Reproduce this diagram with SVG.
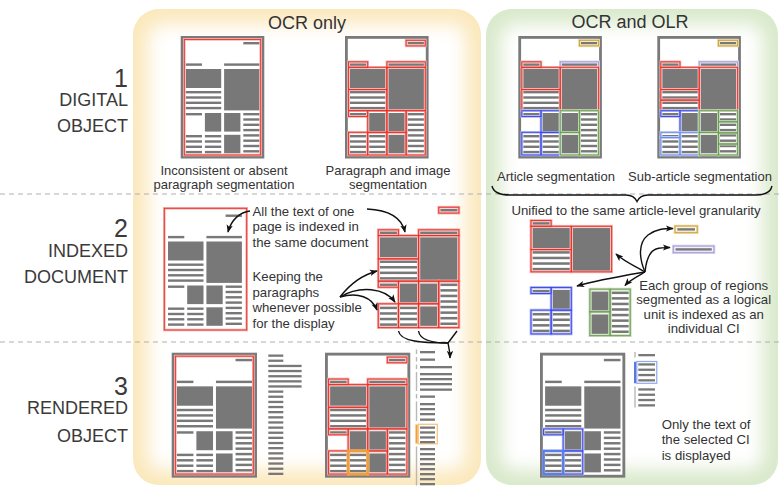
<svg xmlns="http://www.w3.org/2000/svg" width="779" height="486" viewBox="0 0 779 486">
<style>
text{font-family:"Liberation Sans",Arial,sans-serif;fill:#333}
.lab{font-size:18px;text-anchor:end;fill:#3a3a3a}
.num{font-size:25px;text-anchor:end;fill:#3a3a3a}
.hd{font-size:18px;text-anchor:middle}
.cap{font-size:13px;text-anchor:middle}
.ann{font-size:13.2px}
.mid{text-anchor:middle}
.fr{fill:#fff;stroke:#7a7a7a;stroke-width:2.8}
.bar{fill:#787878}
.hR{stroke:#f6b0ac;stroke-width:2.6}
.lR{stroke:#e4312b;stroke-width:0.9}
.hY{stroke:#eedba8;stroke-width:2.6}
.lY{stroke:#c8a03a;stroke-width:0.9}
.hV{stroke:#d8d4f2;stroke-width:2.6}
.lV{stroke:#a49ad8;stroke-width:0.9}
.hB{stroke:#b4baf4;stroke-width:2.6}
.lB{stroke:#3745e6;stroke-width:0.9}
.hL{stroke:#c6d2f4;stroke-width:2.6}
.lL{stroke:#6a8ce6;stroke-width:0.9}
.hG{stroke:#c4dbb6;stroke-width:2.6}
.lG{stroke:#6a9a52;stroke-width:0.9}
.con{fill:none;stroke:#111;stroke-width:1.4}
.dash{stroke:#b0b0b0;stroke-width:1.2;stroke-dasharray:5 4}
.vb{fill:#b8b8b8}
</style>
<defs>
<filter id="blur" x="-20%" y="-20%" width="140%" height="140%"><feGaussianBlur stdDeviation="9"/></filter>
<clipPath id="clipL"><rect x="133" y="9" width="348" height="476" rx="26"/></clipPath>
<clipPath id="clipR"><rect x="486" y="9" width="292" height="476" rx="26"/></clipPath>
<marker id="ah" viewBox="0 0 10 10" refX="9" refY="5" markerWidth="8" markerHeight="8" markerUnits="userSpaceOnUse" orient="auto"><path d="M0,1 L10,5 L0,9 L2.5,5 z" fill="#111"/></marker>
<g id="cTop" class="bar"><rect x="62.6" y="6" width="16.3" height="2.4"/></g>
<g id="cHl2" class="bar"><rect x="43.4" y="27.4" width="35.5" height="2.4"/></g>
<g id="cRed" class="bar">
<rect x="5" y="27.4" width="16.3" height="2.4"/>
<rect x="5" y="33" width="35.5" height="19"/>
<rect x="43.4" y="33" width="35.5" height="41.4"/>
<rect x="5" y="55" width="35.5" height="2.4"/><rect x="5" y="60.3" width="35.5" height="2.4"/><rect x="5" y="65.6" width="35.5" height="2.4"/><rect x="5" y="70.9" width="35.5" height="2.4"/>
</g>
<g id="cBlue" class="bar">
<rect x="5" y="77" width="16.3" height="2.4"/>
<rect x="24.2" y="77" width="16.3" height="18.6"/>
<rect x="5" y="99" width="16.3" height="2.4"/><rect x="5" y="104.3" width="16.3" height="2.4"/><rect x="5" y="109.6" width="16.3" height="2.4"/><rect x="5" y="114.9" width="16.3" height="2.4"/>
<rect x="24.2" y="99" width="16.3" height="2.4"/><rect x="24.2" y="104.3" width="16.3" height="2.4"/><rect x="24.2" y="109.6" width="16.3" height="2.4"/><rect x="24.2" y="114.9" width="16.3" height="2.4"/>
</g>
<g id="cGreen" class="bar">
<rect x="43.4" y="77" width="16.3" height="18.6"/>
<rect x="43.4" y="98.8" width="16.3" height="18.5"/>
<rect x="62.6" y="77" width="16.3" height="2.4"/><rect x="62.6" y="82.3" width="16.3" height="2.4"/><rect x="62.6" y="87.6" width="16.3" height="2.4"/><rect x="62.6" y="92.9" width="16.3" height="2.4"/><rect x="62.6" y="98.2" width="16.3" height="2.4"/><rect x="62.6" y="103.5" width="16.3" height="2.4"/><rect x="62.6" y="108.8" width="16.3" height="2.4"/><rect x="62.6" y="114.1" width="16.3" height="2.4"/>
</g>
<g id="pc"><use href="#cTop"/><use href="#cHl2"/><use href="#cRed"/><use href="#cBlue"/><use href="#cGreen"/></g>
<g id="bTop" fill="none"><rect x="61.1" y="4.3" width="19.2" height="5.6"/></g>
<g id="bHl2" fill="none"><rect x="41.9" y="25.8" width="38.4" height="5.5"/></g>
<g id="bRed" fill="none">
<rect x="3.5" y="25.8" width="19.2" height="5.5"/>
<rect x="3.5" y="31.3" width="38.4" height="22.2"/>
<rect x="3.5" y="53.5" width="38.4" height="21.2"/>
<rect x="41.9" y="31.3" width="38.4" height="43.4"/>
</g>
<g id="bBlue" fill="none">
<rect x="3.5" y="74.7" width="19.2" height="5.8"/>
<rect x="22.7" y="74.7" width="19.2" height="21.6"/>
<rect x="3.5" y="96.3" width="19.2" height="22.7"/>
<rect x="22.7" y="96.3" width="19.2" height="22.7"/>
</g>
<g id="bGreen" fill="none">
<rect x="41.9" y="74.7" width="19.2" height="21.6"/>
<rect x="61.1" y="74.7" width="19.2" height="44.3"/>
<rect x="41.9" y="96.3" width="19.2" height="22.7"/>
</g>
<g id="bAll"><use href="#bTop"/><use href="#bHl2"/><use href="#bRed"/><use href="#bBlue"/><use href="#bGreen"/></g>
<g id="sRed" fill="none">
<rect x="3.5" y="25.8" width="19.2" height="5.5"/>
<rect x="3.5" y="31.3" width="38.4" height="22.2"/>
<rect x="3.5" y="53.5" width="38.4" height="10.6"/>
<rect x="3.5" y="64.1" width="38.4" height="10.6"/>
<rect x="41.9" y="31.3" width="38.4" height="43.4"/>
</g>
<g id="sBlue" fill="none">
<rect x="3.5" y="74.7" width="19.2" height="5.8"/>
<rect x="22.7" y="74.7" width="19.2" height="21.6"/>
</g>
<g id="sLight" fill="none">
<rect x="3.5" y="96.3" width="19.2" height="5.3"/>
<rect x="3.5" y="101.6" width="19.2" height="17.4"/>
<rect x="22.7" y="96.3" width="19.2" height="22.7"/>
</g>
<g id="sGreen" fill="none">
<rect x="41.9" y="74.7" width="19.2" height="21.6"/>
<rect x="41.9" y="96.3" width="19.2" height="22.7"/>
<rect x="61.1" y="74.7" width="19.2" height="11.1"/>
<rect x="61.1" y="85.8" width="19.2" height="11.1"/>
<rect x="61.1" y="96.9" width="19.2" height="11.1"/>
<rect x="61.1" y="108" width="19.2" height="11"/>
</g>
</defs>

<g id="panel-ocr" clip-path="url(#clipL)">
<rect x="133" y="9" width="348" height="476" fill="#fbe8bc"/>
<rect x="148" y="24" width="318" height="446" rx="14" fill="#fff" filter="url(#blur)"/>
</g>
<g id="panel-olr" clip-path="url(#clipR)">
<rect x="486" y="9" width="292" height="476" fill="#d9e9cb"/>
<rect x="501" y="24" width="262" height="446" rx="14" fill="#fff" filter="url(#blur)"/>
</g>

<g id="separators">
<line class="dash" x1="0" y1="194" x2="779" y2="194"/>
<line class="dash" x1="0" y1="342" x2="779" y2="342"/>
</g>

<g id="row-labels">
<text class="num" x="128" y="87">1</text>
<text class="lab" x="128" y="106">DIGITAL</text>
<text class="lab" x="128" y="132">OBJECT</text>
<text class="num" x="128" y="237.3">2</text>
<text class="lab" x="128" y="256.7">INDEXED</text>
<text class="lab" x="128" y="283.3">DOCUMENT</text>
<text class="num" x="128" y="395">3</text>
<text class="lab" x="128" y="414">RENDERED</text>
<text class="lab" x="128" y="441.7">OBJECT</text>
</g>

<g id="headers">
<text class="hd" x="307" y="28.5">OCR only</text>
<text class="hd" x="630" y="28">OCR and OLR</text>
</g>

<g id="page-inconsistent" transform="translate(180.7,36)">
<rect class="fr" x="1.4" y="1.4" width="80.8" height="119.7"/>
<use href="#pc"/>
<rect x="3.6" y="3.4" width="76.4" height="115.6" fill="none" class="hR"/>
<rect x="3.6" y="3.4" width="76.4" height="115.6" fill="none" class="lR"/>
</g>
<g id="page-paragraph" transform="translate(345,36)">
<rect class="fr" x="1.4" y="1.4" width="80.8" height="119.7"/>
<use href="#pc"/>
<use href="#bAll" class="hR"/><use href="#bAll" class="lR"/>
</g>
<g id="page-article" transform="translate(518.3,36)">
<rect class="fr" x="1.4" y="1.4" width="80.8" height="119.7"/>
<use href="#pc"/>
<use href="#bTop" class="hY"/><use href="#bTop" class="lY"/>
<use href="#bHl2" class="hV"/><use href="#bHl2" class="lV"/>
<use href="#bRed" class="hR"/><use href="#bRed" class="lR"/>
<use href="#bBlue" class="hB"/><use href="#bBlue" class="lB"/>
<use href="#bGreen" class="hG"/><use href="#bGreen" class="lG"/>
</g>
<g id="page-subarticle" transform="translate(657.3,36)">
<rect class="fr" x="1.4" y="1.4" width="80.8" height="119.7"/>
<use href="#pc"/>
<use href="#bTop" class="hY"/><use href="#bTop" class="lY"/>
<use href="#bHl2" class="hV"/><use href="#bHl2" class="lV"/>
<use href="#sRed" class="hR"/><use href="#sRed" class="lR"/>
<use href="#sBlue" class="hB"/><use href="#sBlue" class="lB"/>
<use href="#sLight" class="hL"/><use href="#sLight" class="lL"/>
<use href="#sGreen" class="hG"/><use href="#sGreen" class="lG"/>
</g>
<g id="captions-row1">
<text class="cap" x="224" y="175">Inconsistent or absent</text>
<text class="cap" x="224" y="189">paragraph segmentation</text>
<text class="cap" x="388" y="175">Paragraph and image</text>
<text class="cap" x="388" y="189">segmentation</text>
<text class="cap" x="556" y="181">Article segmentation</text>
<text class="cap" x="700" y="181">Sub-article segmentation</text>
</g>

<g id="indexed-page" transform="translate(163,208.5)">
<use href="#pc"/>
<rect x="1.3" y="-0.2" width="82.4" height="121.7" fill="none" class="hR"/>
<rect x="1.3" y="-0.2" width="82.4" height="121.7" fill="none" class="lR"/>
</g>
<g id="indexed-paragraphs" transform="translate(374.6,202.7) scale(1.05)">
<use href="#pc"/>
<use href="#bAll" class="hR"/><use href="#bAll" class="lR"/>
</g>
<g id="ann-row2-left">
<text class="ann" x="252.5" y="215.5">All the text of one</text>
<text class="ann" x="252.5" y="231">page is indexed in</text>
<text class="ann" x="252.5" y="246.5">the same document</text>
<text class="ann" x="252.5" y="281">Keeping the</text>
<text class="ann" x="252.5" y="296.5">paragraphs</text>
<text class="ann" x="252.5" y="312">whenever possible</text>
<text class="ann" x="252.5" y="327.5">for the display</text>
</g>
<g id="ci-red" transform="translate(527.3,193.4) scale(1.05)">
<use href="#cRed"/>
<use href="#bRed" class="hR"/><use href="#bRed" class="lR"/>
</g>
<g id="ci-gold">
<rect x="677.3" y="228.2" width="17.7" height="2.4" class="bar"/>
<rect x="675" y="226" width="22.3" height="6.7" fill="none" class="hY"/>
<rect x="675" y="226" width="22.3" height="6.7" fill="none" class="lY"/>
</g>
<g id="ci-lavender">
<rect x="675.5" y="248.2" width="36.3" height="2.4" class="bar"/>
<rect x="673.3" y="246" width="40.7" height="6.7" fill="none" class="hV"/>
<rect x="673.3" y="246" width="40.7" height="6.7" fill="none" class="lV"/>
</g>
<g id="ci-blue" transform="translate(527.3,209) scale(1.05)">
<use href="#cBlue"/>
<use href="#bBlue" class="hB"/><use href="#bBlue" class="lB"/>
</g>
<g id="ci-green" transform="translate(545.9,210.7) scale(1.05)">
<use href="#cGreen"/>
<use href="#bGreen" class="hG"/><use href="#bGreen" class="lG"/>
</g>
<g id="ann-row2-right">
<text class="ann mid" x="636" y="215">Unified to the same article-level granularity</text>
<text class="ann mid" x="703.7" y="290">Each group of regions</text>
<text class="ann mid" x="703.7" y="304.3">segmented as a logical</text>
<text class="ann mid" x="703.7" y="318.5">unit is indexed as an</text>
<text class="ann mid" x="703.7" y="332.7">individual CI</text>
</g>

<g id="render-page" transform="translate(171.7,352.7) scale(1.02)">
<rect class="fr" x="1.4" y="1.4" width="80.8" height="119.7"/>
<use href="#pc"/>
<rect x="3.6" y="3.4" width="76.4" height="115.6" fill="none" class="hR"/>
<rect x="3.6" y="3.4" width="76.4" height="115.6" fill="none" class="lR"/>
</g>
<g id="render-page-text" class="bar">
<rect x="268.3" y="354.5" width="15" height="2.3"/>
<rect x="268.3" y="359.6" width="15" height="2.3"/>
<rect x="268.3" y="364.8" width="33.3" height="2.3"/>
<rect x="268.3" y="369.9" width="33.3" height="2.3"/>
<rect x="268.3" y="375.1" width="33.3" height="2.3"/>
<rect x="268.3" y="380.2" width="33.3" height="2.3"/>
<rect x="268.3" y="385.3" width="33.3" height="2.3"/>
<rect x="268.3" y="390.5" width="15" height="2.3"/>
<rect x="268.3" y="395.6" width="15" height="2.3"/>
<rect x="268.3" y="400.8" width="15" height="2.3"/>
<rect x="268.3" y="405.9" width="15" height="2.3"/>
<rect x="268.3" y="411" width="15" height="2.3"/>
<rect x="268.3" y="416.2" width="15" height="2.3"/>
<rect x="268.3" y="421.3" width="15" height="2.3"/>
<rect x="268.3" y="426.5" width="15" height="2.3"/>
<rect x="268.3" y="431.6" width="15" height="2.3"/>
<rect x="268.3" y="436.7" width="15" height="2.3"/>
<rect x="268.3" y="441.9" width="15" height="2.3"/>
<rect x="268.3" y="447" width="15" height="2.3"/>
<rect x="268.3" y="452.2" width="15" height="2.3"/>
<rect x="268.3" y="457.3" width="15" height="2.3"/>
<rect x="268.3" y="462.4" width="15" height="2.3"/>
<rect x="268.3" y="467.6" width="15" height="2.3"/>
<rect x="268.3" y="472.7" width="15" height="2.3"/>
</g>
<g id="render-paragraph-page" transform="translate(325,352.7) scale(1.02)">
<rect class="fr" x="1.4" y="1.4" width="80.8" height="119.7"/>
<use href="#pc"/>
<use href="#bAll" class="hR"/><use href="#bAll" class="lR"/>
<rect x="22.7" y="96.3" width="19.2" height="22.7" fill="none" stroke="#f0a030" stroke-width="2.6"/>
</g>
<g id="render-paragraph-text">
<rect class="vb" x="415.8" y="349.5" width="1.4" height="4.5"/>
<rect class="vb" x="415.8" y="357" width="1.4" height="4.5"/>
<rect class="vb" x="415.8" y="364.5" width="1.4" height="4.5"/>
<rect class="vb" x="415.8" y="372" width="1.4" height="19"/>
<rect class="vb" x="415.8" y="394" width="1.4" height="4.5"/>
<rect class="vb" x="415.8" y="401.5" width="1.4" height="19.5"/>
<rect x="415.5" y="424.5" width="2.2" height="19" fill="#f0a030"/>
<rect class="vb" x="415.8" y="446.5" width="1.4" height="39"/>
<rect x="418.3" y="424.3" width="19" height="19.5" fill="none" stroke="#f7c585" stroke-width="1.3"/>
<g class="bar">
<rect x="420" y="351" width="15" height="2.3"/>
<rect x="420" y="358.5" width="15" height="2.3"/>
<rect x="420" y="366" width="32" height="2.3"/>
<rect x="420" y="373" width="32" height="2.3"/>
<rect x="420" y="378" width="32" height="2.3"/>
<rect x="420" y="383" width="32" height="2.3"/>
<rect x="420" y="388.5" width="32" height="2.3"/>
<rect x="420" y="395.5" width="15" height="2.3"/>
<rect x="420" y="403" width="15" height="2.3"/>
<rect x="420" y="408" width="15" height="2.3"/>
<rect x="420" y="413" width="15" height="2.3"/>
<rect x="420" y="418.5" width="15" height="2.3"/>
<rect x="420" y="426.5" width="15" height="2.3"/>
<rect x="420" y="431.3" width="15" height="2.3"/>
<rect x="420" y="436.3" width="15" height="2.3"/>
<rect x="420" y="441" width="15" height="2.3"/>
<rect x="420" y="448" width="15" height="2.3"/>
<rect x="420" y="453" width="15" height="2.3"/>
<rect x="420" y="458" width="15" height="2.3"/>
<rect x="420" y="463" width="15" height="2.3"/>
<rect x="420" y="468" width="15" height="2.3"/>
<rect x="420" y="473" width="15" height="2.3"/>
<rect x="420" y="478" width="15" height="2.3"/>
<rect x="420" y="483" width="15" height="2.3"/>
</g>
</g>
<g id="render-ci-page" transform="translate(540,352.7) scale(1.02)">
<rect class="fr" x="1.4" y="1.4" width="80.8" height="119.7"/>
<use href="#pc"/>
<use href="#bBlue" class="hB"/><use href="#bBlue" class="lB"/>
<rect x="3.5" y="96.3" width="19.2" height="22.7" fill="none" stroke="#5b7fe6" stroke-width="2.4"/>
</g>
<g id="render-ci-text">
<rect class="vb" x="634.3" y="352" width="1.4" height="5.5"/>
<rect x="634" y="361.8" width="2.2" height="21.5" fill="#5a78e0"/>
<rect class="vb" x="634.3" y="386.5" width="1.4" height="21"/>
<rect x="636.8" y="361.5" width="20" height="21.8" fill="none" stroke="#8fa8ee" stroke-width="1.2"/>
<g class="bar">
<rect x="638.3" y="354" width="16.7" height="2.3"/>
<rect x="638.3" y="363.3" width="16.7" height="2.3"/>
<rect x="638.3" y="368.6" width="16.7" height="2.3"/>
<rect x="638.3" y="373.9" width="16.7" height="2.3"/>
<rect x="638.3" y="379.2" width="16.7" height="2.3"/>
<rect x="638.3" y="388.3" width="16.7" height="2.3"/>
<rect x="638.3" y="393.6" width="16.7" height="2.3"/>
<rect x="638.3" y="398.9" width="16.7" height="2.3"/>
<rect x="638.3" y="404.2" width="16.7" height="2.3"/>
</g>
<text class="ann" x="661.7" y="428.5">Only the text of</text>
<text class="ann" x="661.7" y="444">the selected CI</text>
<text class="ann" x="661.7" y="459.5">is displayed</text>
</g>

<g id="connectors">
<path class="con" d="M492,186 Q494,195 510,195 L626,195 Q634,195 637,201.5 Q640,195 648,195 L756,195 Q770,195 772,186"/>
<path class="con" marker-end="url(#ah)" d="M250,211 C240,212 231,220 228,232"/>
<path class="con" marker-end="url(#ah)" d="M367,209 C390,210 402,219 405,232"/>
<path class="con" marker-end="url(#ah)" d="M340,297 C350,284 362,275 377,271"/>
<path class="con" marker-end="url(#ah)" d="M340,297 C360,285 385,288 395,302"/>
<path class="con" marker-end="url(#ah)" d="M340,297 C358,292 372,297 377,310"/>
<path class="con" d="M398.5,331 C400,341 420,343 448,343"/>
<path class="con" d="M418.5,331 C420,340 432,343 448,343"/>
<path class="con" d="M457,331 L448,343"/>
<path class="con" marker-end="url(#ah)" d="M448,343 C449,348 450,352 450,358"/>
<path class="con" marker-end="url(#ah)" d="M645,272 C635,266 625,262 616,254"/>
<path class="con" marker-end="url(#ah)" d="M645,272 C622,276 598,280 577,286"/>
<path class="con" marker-end="url(#ah)" d="M645,272 C638,276 630,280 625,285.5"/>
<path class="con" marker-end="url(#ah)" d="M645,272 C639,258 638,243 648,235 C656,229 664,228.5 673,228.5"/>
<path class="con" marker-end="url(#ah)" d="M645,272 C646,262 648,252 656,249 C661,247.5 665,247.5 670,247.5"/>
</g>
</svg>
